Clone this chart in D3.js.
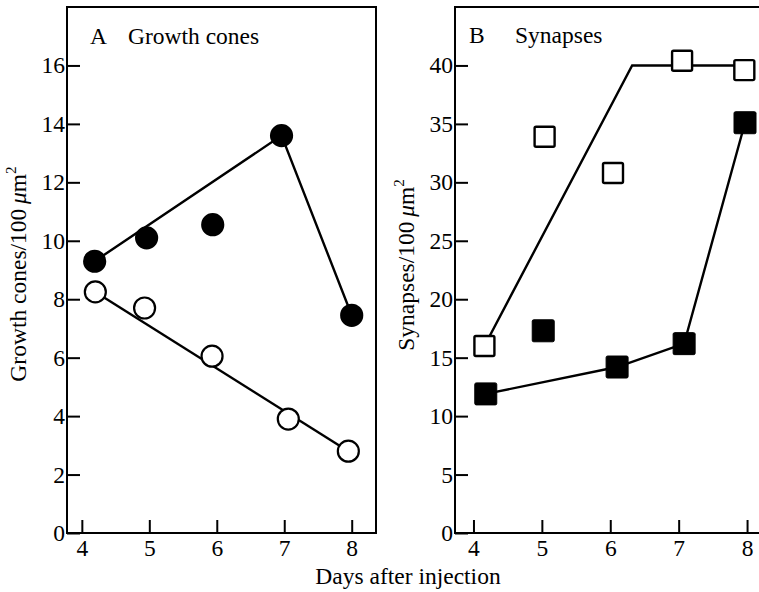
<!DOCTYPE html>
<html>
<head>
<meta charset="utf-8">
<script src="https://cdn.jsdelivr.net/npm/d3@7"></script>
<style>
  body { margin: 0; background: #fff; }
  svg text { font-family: "Liberation Serif", "Times New Roman", serif; fill: #000; }
</style>
</head>
<body>
<svg id="fig" width="759" height="592"></svg>
<script>
//------------------------------------------------------------------------
// Data
const dayTicks      = [4, 5, 6, 7, 8];
const growthTicks   = [0, 2, 4, 6, 8, 10, 12, 14, 16];
const synapseTicks  = [0, 5, 10, 15, 20, 25, 30, 35, 40];

// Panel A - growth cones
const coneFilledX   = [4.19, 4.96, 5.94, 6.96, 8.0];
const coneFilledY   = [9.3, 10.1, 10.55, 13.6, 7.45];
const coneOpenX     = [4.2, 4.93, 5.93, 7.06, 7.95];
const coneOpenY     = [8.25, 7.7, 6.05, 3.9, 2.8];
const coneFilledFitX = [4.19, 6.96, 8.0];
const coneFilledFitY = [9.3, 13.6, 7.45];
const coneOpenFitX   = [4.2, 7.95];
const coneOpenFitY   = [8.25, 2.8];

// Panel B - synapses
const synOpenX      = [4.16, 5.04, 6.04, 7.05, 7.96];
const synOpenY      = [16.0, 33.9, 30.8, 40.4, 39.6];
const synFilledX    = [4.18, 5.02, 6.1, 7.08, 7.97];
const synFilledY    = [11.9, 17.3, 14.2, 16.2, 35.1];
const synOpenFitX   = [4.16, 6.32, 7.96];
const synOpenFitY   = [16, 40, 40];
const synFilledFitX = [4.18, 6.1, 7.08, 7.97];
const synFilledFitY = [11.9, 14.2, 16.2, 35.1];

//------------------------------------------------------------------------
const svg = d3.select('#fig');
const fontSize = 23.5;
const zip = (xs, ys) => xs.map((x, i) => [x, ys[i]]);

// Scales for both panels
const xA = d3.scaleLinear().domain([3.78, 8.36]).range([67, 376]);
const yA = d3.scaleLinear().domain([0, 18]).range([533, 7]);
const xB = d3.scaleLinear().domain([3.73, 8.35]).range([455, 771]);
const yB = d3.scaleLinear().domain([0, 45]).range([533, 7]);

function drawPanel(x, y, yTicks) {
    const g = svg.append('g');

    // frame
    g.append('rect')
     .attr('x', x.range()[0]).attr('y', y.range()[1])
     .attr('width', x.range()[1] - x.range()[0])
     .attr('height', y.range()[0] - y.range()[1])
     .attr('fill', 'none').attr('stroke', '#000').attr('stroke-width', 2);

    const xAxis = g.append('g')
        .attr('transform', `translate(0,${y.range()[0]})`)
        .call(d3.axisBottom(x).tickValues(dayTicks).tickFormat(d3.format('d'))
                .tickSize(-13).tickSizeOuter(0).tickPadding(6));
    const yAxis = g.append('g')
        .attr('transform', `translate(${x.range()[0]},0)`)
        .call(d3.axisLeft(y).tickValues(yTicks).tickFormat(d3.format('d'))
                .tickSize(-13).tickSizeOuter(0).tickPadding(2));

    [xAxis, yAxis].forEach(a => {
        a.attr('font-family', null);
        a.select('.domain').remove();
        a.selectAll('.tick line').attr('stroke', '#000').attr('stroke-width', 2);
        a.selectAll('.tick text').attr('font-size', fontSize);
    });
    return g;
}

function drawLine(g, x, y, xs, ys) {
    g.append('path')
     .datum(zip(xs, ys))
     .attr('fill', 'none').attr('stroke', '#000').attr('stroke-width', 2.4)
     .attr('d', d3.line().x(d => x(d[0])).y(d => y(d[1])));
}

function drawCircles(g, x, y, xs, ys, filled) {
    g.selectAll(null).data(zip(xs, ys)).enter()
     .append('circle')
     .attr('cx', d => x(d[0])).attr('cy', d => y(d[1]))
     .attr('r', 10.5)
     .attr('fill', filled ? '#000' : '#fff')
     .attr('stroke', '#000').attr('stroke-width', 2.2);
}

function drawSquares(g, x, y, xs, ys, filled) {
    const s = filled ? 22 : 20;
    g.selectAll(null).data(zip(xs, ys)).enter()
     .append('rect')
     .attr('x', d => x(d[0]) - s / 2).attr('y', d => y(d[1]) - s / 2)
     .attr('width', s).attr('height', s).attr('rx', 1.5)
     .attr('fill', filled ? '#000' : '#fff')
     .attr('stroke', '#000').attr('stroke-width', filled ? 1 : 2.4);
}

// Panel A
const gA = drawPanel(xA, yA, growthTicks);
drawLine(gA, xA, yA, coneFilledFitX, coneFilledFitY);
drawLine(gA, xA, yA, coneOpenFitX, coneOpenFitY);
drawCircles(gA, xA, yA, coneFilledX, coneFilledY, true);
drawCircles(gA, xA, yA, coneOpenX, coneOpenY, false);

// Panel B
const gB = drawPanel(xB, yB, synapseTicks);
drawLine(gB, xB, yB, synOpenFitX, synOpenFitY);
drawLine(gB, xB, yB, synFilledFitX, synFilledFitY);
drawSquares(gB, xB, yB, synOpenX, synOpenY, false);
drawSquares(gB, xB, yB, synFilledX, synFilledY, true);

// Panel titles
svg.append('text').attr('x', 90).attr('y', 44).attr('font-size', fontSize).text('A');
svg.append('text').attr('x', 128).attr('y', 44).attr('font-size', fontSize).text('Growth cones');
svg.append('text').attr('x', 469).attr('y', 43).attr('font-size', fontSize).text('B');
svg.append('text').attr('x', 515).attr('y', 43).attr('font-size', fontSize).text('Synapses');

// Axis titles
function yTitle(cx, cy, label) {
    const t = svg.append('text')
        .attr('transform', `translate(${cx},${cy}) rotate(-90)`)
        .attr('text-anchor', 'middle').attr('font-size', fontSize);
    t.append('tspan').text(label + '/100\u2009');
    t.append('tspan').attr('font-style', 'italic').text('\u03bc');
    t.append('tspan').text('m');
    t.append('tspan').attr('font-size', 15).attr('dy', -10).text('2');
}
yTitle(26, 274, 'Growth cones');
yTitle(414, 265, 'Synapses');

svg.append('text').attr('x', 408).attr('y', 584)
   .attr('text-anchor', 'middle').attr('font-size', fontSize)
   .text('Days after injection');
</script>
</body>
</html>
